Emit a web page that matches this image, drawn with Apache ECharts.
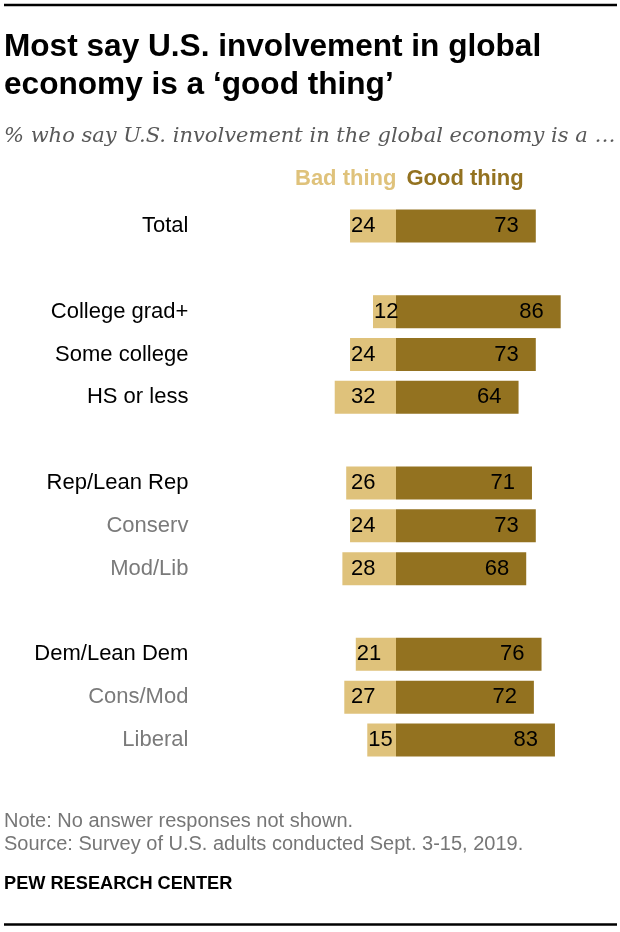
<!DOCTYPE html>
<html>
<head>
<meta charset="utf-8">
<script src="https://cdn.jsdelivr.net/npm/echarts@6/dist/echarts.min.js"></script>
<style>
  html, body { margin: 0; padding: 0; background: #fff; }
  #chart { width: 620px; height: 932px; }
</style>
</head>
<body>
<div id="chart"></div>
<script>
// ---- Data ----
const categories = ['Total', ' ', 'College grad+', 'Some college', 'HS or less', '  ',
  'Rep/Lean Rep', 'Conserv', 'Mod/Lib', '   ', 'Dem/Lean Dem', 'Cons/Mod', 'Liberal'];
const subgroups = ['Conserv', 'Mod/Lib', 'Cons/Mod', 'Liberal'];
const badThing = [24, null, 12, 24, 32, null, 26, 24, 28, null, 21, 27, 15];
const goodThing = [73, null, 86, 73, 64, null, 71, 73, 68, null, 76, 72, 83];
const seriesNames = ['Bad thing', 'Good thing'];

// ---- Layout / style ----
const BAD_COLOR = '#DFC27B';
const GOOD_COLOR = '#937220';
const X_MIN = -40, X_MAX = 100;
const GRID_LEFT = 319.4, GRID_RIGHT = 32.5;
const PPU = (620 - GRID_LEFT - GRID_RIGHT) / (X_MAX - X_MIN);
const SANS = "'Liberation Sans', Arial, sans-serif";

const chart = echarts.init(document.getElementById('chart'), null, { renderer: 'canvas' });

const badData = badThing.map(v => v == null ? null : {
  value: -v,
  label: { distance: Math.max(1, (v - 23.5) * PPU) }
});

chart.setOption({
  animation: false,
  backgroundColor: '#fff',
  title: [
    {
      text: 'Most say U.S. involvement in global\neconomy is a \u2018good thing\u2019',
      left: 4, top: 28, padding: 0,
      textStyle: { fontFamily: SANS, fontWeight: 'bold', fontSize: 31.6, lineHeight: 38, color: '#000' }
    },
    {
      text: '% who say U.S. involvement in the global economy is a \u2026',
      left: 4, top: 126, padding: 0,
      textStyle: { fontFamily: "'DejaVu Serif', Georgia, serif", fontStyle: 'italic', fontWeight: 'normal', fontSize: 21, color: '#595959' }
    },
    {
      text: 'Note: No answer responses not shown.\nSource: Survey of U.S. adults conducted Sept. 3-15, 2019.',
      left: 4, top: 810, padding: 0,
      textStyle: { fontFamily: SANS, fontWeight: 'normal', fontSize: 20, lineHeight: 23, color: '#767676' }
    },
    {
      text: 'PEW RESEARCH CENTER',
      left: 4, top: 875, padding: 0,
      textStyle: { fontFamily: SANS, fontWeight: 'bold', fontSize: 18.2, color: '#000' }
    }
  ],
  graphic: [
    { type: 'line', shape: { x1: 4, y1: 5, x2: 617, y2: 5 }, style: { stroke: '#000', lineWidth: 2.5 } },
    { type: 'line', shape: { x1: 4, y1: 924.5, x2: 617, y2: 924.5 }, style: { stroke: '#000', lineWidth: 2.5 } }
  ],
  legend: {
    data: [
      { name: seriesNames[0], textStyle: { color: BAD_COLOR } },
      { name: seriesNames[1], textStyle: { color: GOOD_COLOR } }
    ],
    icon: 'none',
    itemWidth: 0,
    itemGap: 5,
    left: 290, top: 168,
    padding: 0,
    selectedMode: false,
    textStyle: { fontFamily: SANS, fontWeight: 'bold', fontSize: 22 }
  },
  grid: { left: GRID_LEFT, right: GRID_RIGHT, top: 204.6, bottom: 170.6, containLabel: false },
  xAxis: {
    type: 'value', min: X_MIN, max: X_MAX,
    show: false
  },
  yAxis: {
    type: 'category',
    data: categories,
    inverse: true,
    axisLine: { show: false },
    axisTick: { show: false },
    splitLine: { show: false },
    axisLabel: {
      margin: 131,
      fontFamily: SANS,
      fontSize: 22,
      color: (value) => subgroups.includes(value) ? '#7a7a7a' : '#000'
    }
  },
  series: [
    {
      name: seriesNames[0], type: 'bar',
      data: badData,
      barWidth: 33, barGap: '-100%',
      itemStyle: { color: BAD_COLOR },
      label: {
        show: true, position: 'insideLeft',
        formatter: p => Math.abs(p.value),
        fontFamily: SANS, fontSize: 22, color: '#000'
      }
    },
    {
      name: seriesNames[1], type: 'bar',
      data: goodThing,
      barWidth: 33, barGap: '-100%',
      itemStyle: { color: GOOD_COLOR },
      label: {
        show: true, position: 'insideRight', distance: 17,
        fontFamily: SANS, fontSize: 22, color: '#000'
      }
    }
  ]
});
</script>
</body>
</html>
